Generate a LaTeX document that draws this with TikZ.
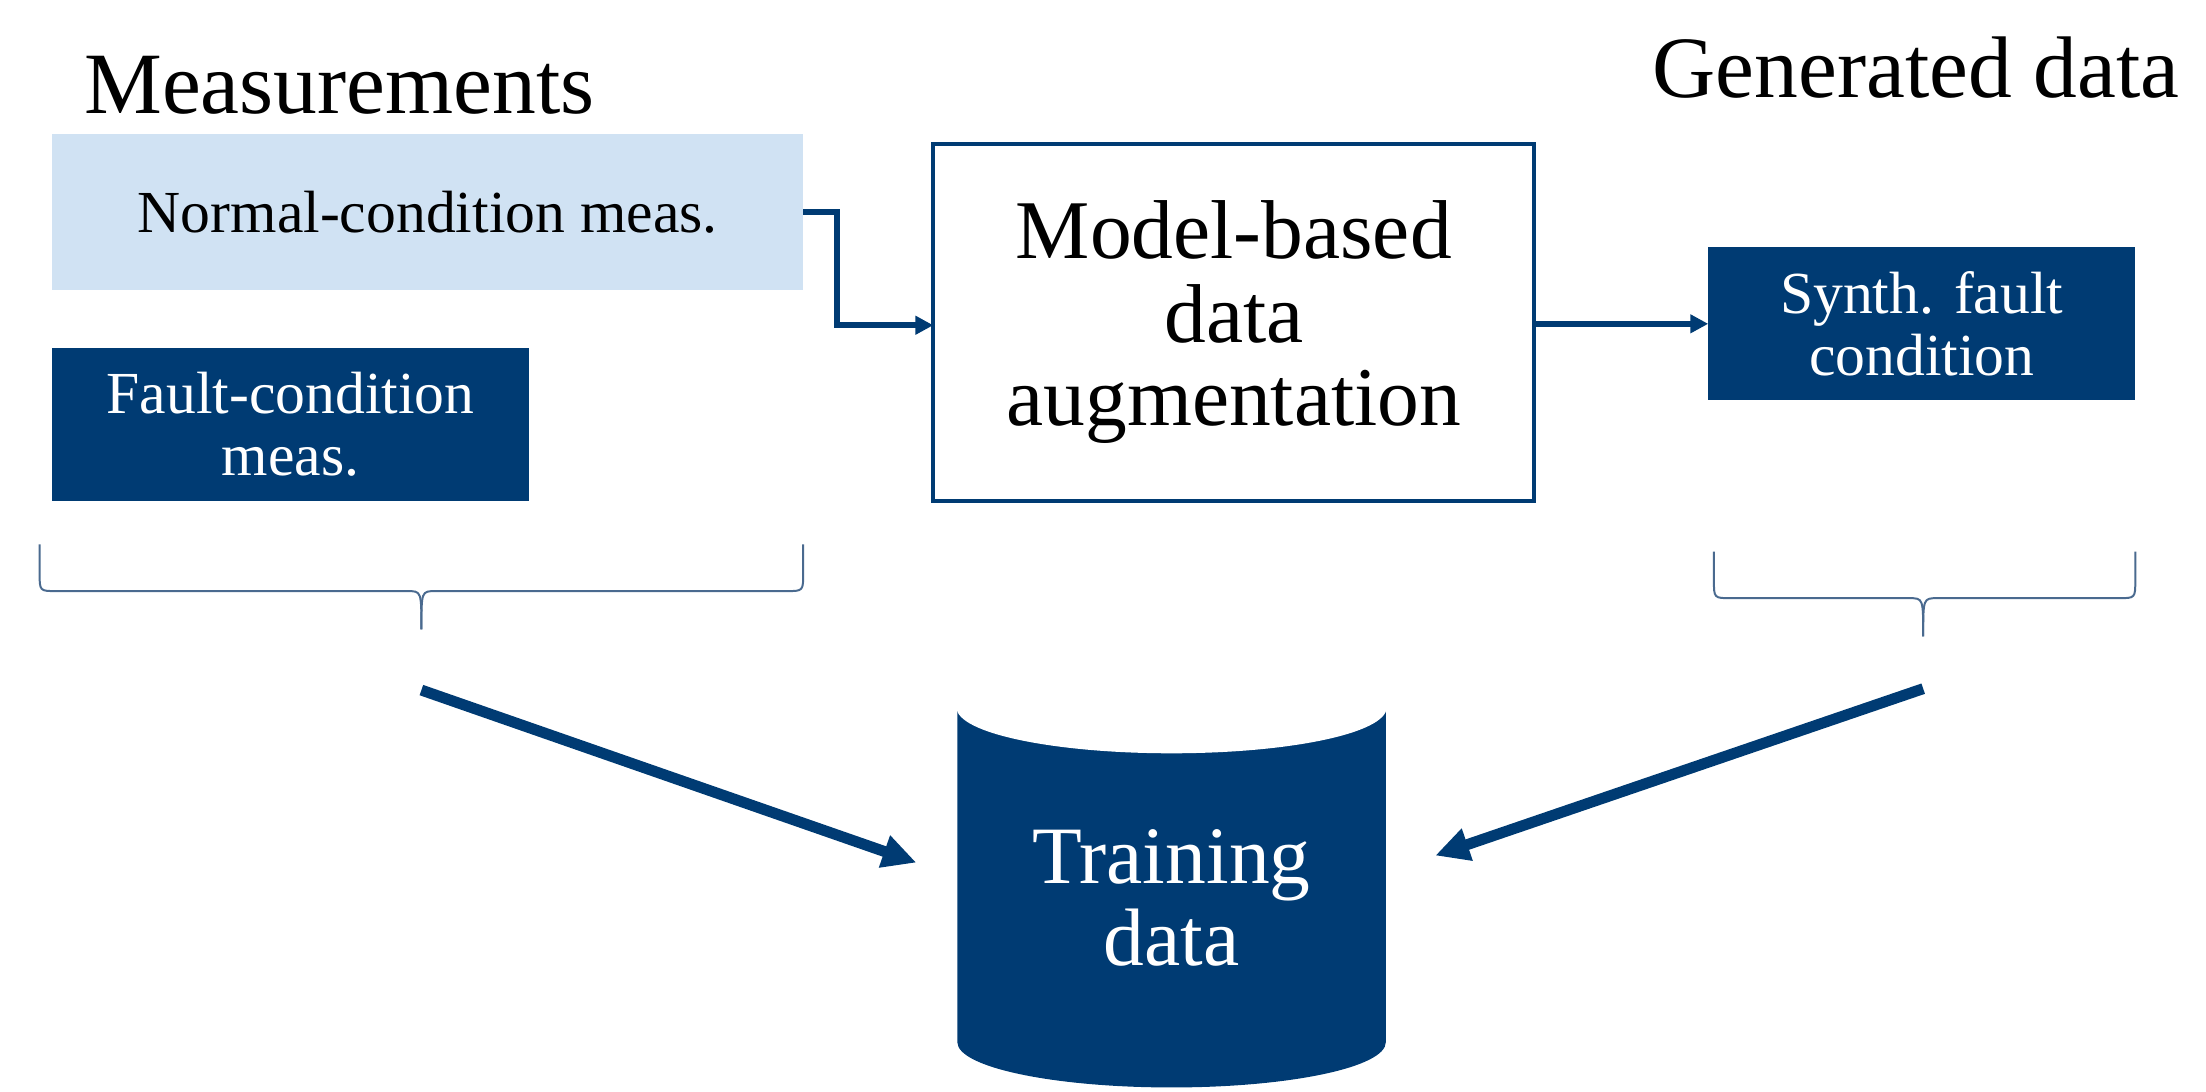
\documentclass[tikz,border=0pt]{standalone}
\usepackage{fontspec}
\setmainfont{Liberation Serif}
\usetikzlibrary{shapes.geometric,arrows.meta}
\definecolor{dblue}{HTML}{003B73}
\definecolor{lblue}{HTML}{D0E2F3}
\definecolor{bgray}{HTML}{4A6A8F}
\begin{document}
\begin{tikzpicture}[x=0.05cm,y=-0.05cm,
  box/.style={draw=none,inner sep=0pt,align=center,font=\fontsize{60}{66}\selectfont},
  big/.style={font=\fontsize{84}{90}\selectfont},
  conn/.style={draw=dblue,line width=11pt,-{Triangle[length=34pt,width=32pt]}},
  thin/.style={draw=dblue,line width=6pt,-{Triangle[length=18pt,width=18pt]}},
  brace/.style={draw=bgray,line width=2pt}]
\useasboundingbox (0,0) rectangle (1560,772);
\fill[lblue] (37,95) rectangle (568,205);
\node[box] (normt) at (302.5,150) {Normal-condition meas.};
\fill[dblue] (37,246) rectangle (374,354);
\node[box,text=white] (fault) at (205.5,300) {Fault-condition\\[-4pt]meas.};
\draw[dblue,line width=4pt] (660,102) rectangle (1085,354);
\node[box,big] (model) at (872.5,228) {Model-based\\[-6pt]data\\[-6pt]augmentation};
\fill[dblue] (1208,175) rectangle (1510,283);
\node[box,text=white] (synth) at (1359,229) {Synth. fault\\[-4pt]condition};
\node[big,anchor=center,font=\fontsize{88}{94}\selectfont] (meas) at (240,60) {Measurements};
\node[big,anchor=center,font=\fontsize{88}{94}\selectfont] (gen) at (1355,48) {Generated data};
% cylinder
\fill[dblue] (677,500) -- (677,737) arc[start angle=180,end angle=360,x radius=151.5,y radius=-32] -- (980,500) arc[start angle=0,end angle=180,x radius=151.5,y radius=32] -- cycle;
\draw[white,line width=2pt] (677,500) arc[start angle=180,end angle=360,x radius=151.5,y radius=-32];
\node[box,text=white,font=\fontsize{82}{88}\selectfont] (train) at (828.5,635) {Training\\[-6pt]data};
% connectors
\coordinate (n1) at (568,150);
\coordinate (n2) at (592,150);
\coordinate (n3) at (592,230);
\coordinate (m1) at (660,230);
\draw[thin] (n1) -- (n2) -- (n3) -- (m1);
\coordinate (m2) at (1085,229);
\coordinate (s1) at (1208,229);
\draw[thin] (m2) -- (s1);
% braces
\draw[brace] (28,385) -- (28,405) .. controls (28,418) .. (40,418) -- (288,418) .. controls (298,418) .. (298,445);
\draw[brace] (568,385) -- (568,405) .. controls (568,418) .. (556,418) -- (308,418) .. controls (298,418) .. (298,445);
\draw[brace] (1212,390) -- (1212,410) .. controls (1212,423) .. (1224,423) -- (1350,423) .. controls (1360,423) .. (1360,450);
\draw[brace] (1510,390) -- (1510,410) .. controls (1510,423) .. (1498,423) -- (1370,423) .. controls (1360,423) .. (1360,450);
\coordinate (b1) at (298,488);
\coordinate (t1) at (648,610);
\coordinate (b2) at (1360,487);
\coordinate (t2) at (1015,605);
\draw[conn] (b1) -- (t1);
\draw[conn] (b2) -- (t2);
\end{tikzpicture}
\end{document}
